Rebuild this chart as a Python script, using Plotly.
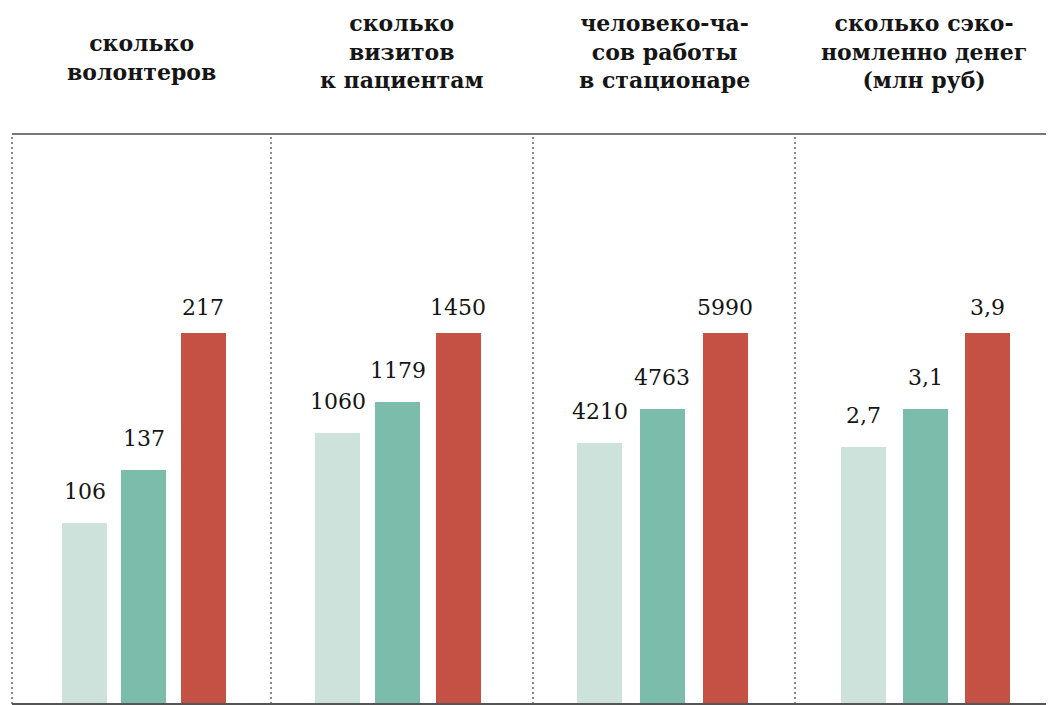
import plotly.graph_objects as go

# ---------------- data ----------------
title_lines = [
    ["сколько", "волонтеров"],
    ["сколько", "визитов", "к пациентам"],
    ["человеко-ча-", "сов работы", "в стационаре"],
    ["сколько сэко-", "номленно денег", "(млн руб)"],
]
values_first = [106, 1060, 4210, 2.7]
values_second = [137, 1179, 4763, 3.1]
values_third = [217, 1450, 5990, 3.9]

# ---------------- style / layout ----------------
OFF = 8  # page body margin
W, H = 1054 - OFF, 705 - OFF
T = 134 - OFF
B = H - (704 - OFF)
PH = H - T - B
colors = ["#cde2db", "#7bbcaa", "#c55044"]
label_gap = [23, 23, 17]          # px gap between bar top and label baseline
panel_edges = [p - OFF for p in [12, 271, 533, 795, 1053]]
bar_geom = [(84.5 - OFF, 59.4), (337.5 - OFF, 60.25), (599.8 - OFF, 62.6), (863.7 - OFF, 61.7)]
bar_px = 45
red_px = 371
title_center_px = [57 - OFF, 51 - OFF, 51 - OFF, 51 - OFF]

SERIF = "DejaVu Serif"

def fmt(v):
    return f"{v:g}".replace(".", ",")

fig = go.Figure()
annotations = []
shapes = []
layout = {}

for i in range(4):
    vals = [values_first[i], values_second[i], values_third[i]]
    L, R = panel_edges[i], panel_edges[i + 1]
    c0, s = bar_geom[i]
    xa = "x" if i == 0 else f"x{i+1}"
    ya = "y" if i == 0 else f"y{i+1}"
    fig.add_trace(go.Bar(
        x=[0, 1, 2], y=vals, width=bar_px / s,
        marker=dict(color=colors, line=dict(width=0)),
        xaxis=xa, yaxis=ya, hoverinfo="skip", showlegend=False,
    ))
    ymax = max(vals) * PH / red_px
    key = "" if i == 0 else str(i + 1)
    layout["xaxis" + key] = dict(domain=[L / W, min(R / W, 1)], range=[(L - c0) / s, (R - c0) / s],
                                 visible=False, anchor=ya, fixedrange=True)
    layout["yaxis" + key] = dict(domain=[0, 1], range=[0, ymax], visible=False,
                                 anchor=xa, fixedrange=True)
    for j, v in enumerate(vals):
        annotations.append(dict(
            x=j, y=v, xref=xa, yref=ya, text=fmt(v), showarrow=False,
            yanchor="bottom", xanchor="center", yshift=label_gap[j] - 6,
            font=dict(family=SERIF, size=22, color="#151515"),
        ))
    cx = (L + R) / 2 / W
    annotations.append(dict(
        x=cx, y=(H - B - title_center_px[i]) / PH, xref="paper", yref="paper",
        text="<br>".join("<b>" + ln + "</b>" for ln in title_lines[i]), showarrow=False,
        xanchor="center", yanchor="middle", align="center",
        font=dict(family=SERIF, size=22, color="#151515"),
    ))

for xp in panel_edges:
    shapes.append(dict(type="line", xref="paper", yref="paper",
                       x0=xp / W, x1=xp / W, y0=0, y1=1,
                       line=dict(color="#8a8a8a", width=2, dash="2px,3px")))
shapes.append(dict(type="line", xref="paper", yref="paper", x0=panel_edges[0] / W, x1=1, y0=1, y1=1,
                   line=dict(color="#777777", width=2)))
shapes.append(dict(type="line", xref="paper", yref="paper", x0=panel_edges[0] / W, x1=1, y0=0, y1=0,
                   line=dict(color="#555555", width=2)))

fig.update_layout(
    width=W, height=H,
    margin=dict(l=0, r=0, t=T, b=B),
    paper_bgcolor="white", plot_bgcolor="rgba(0,0,0,0)",
    annotations=annotations, shapes=shapes, bargap=0,
    **layout,
)

fig.write_html("out.html")
